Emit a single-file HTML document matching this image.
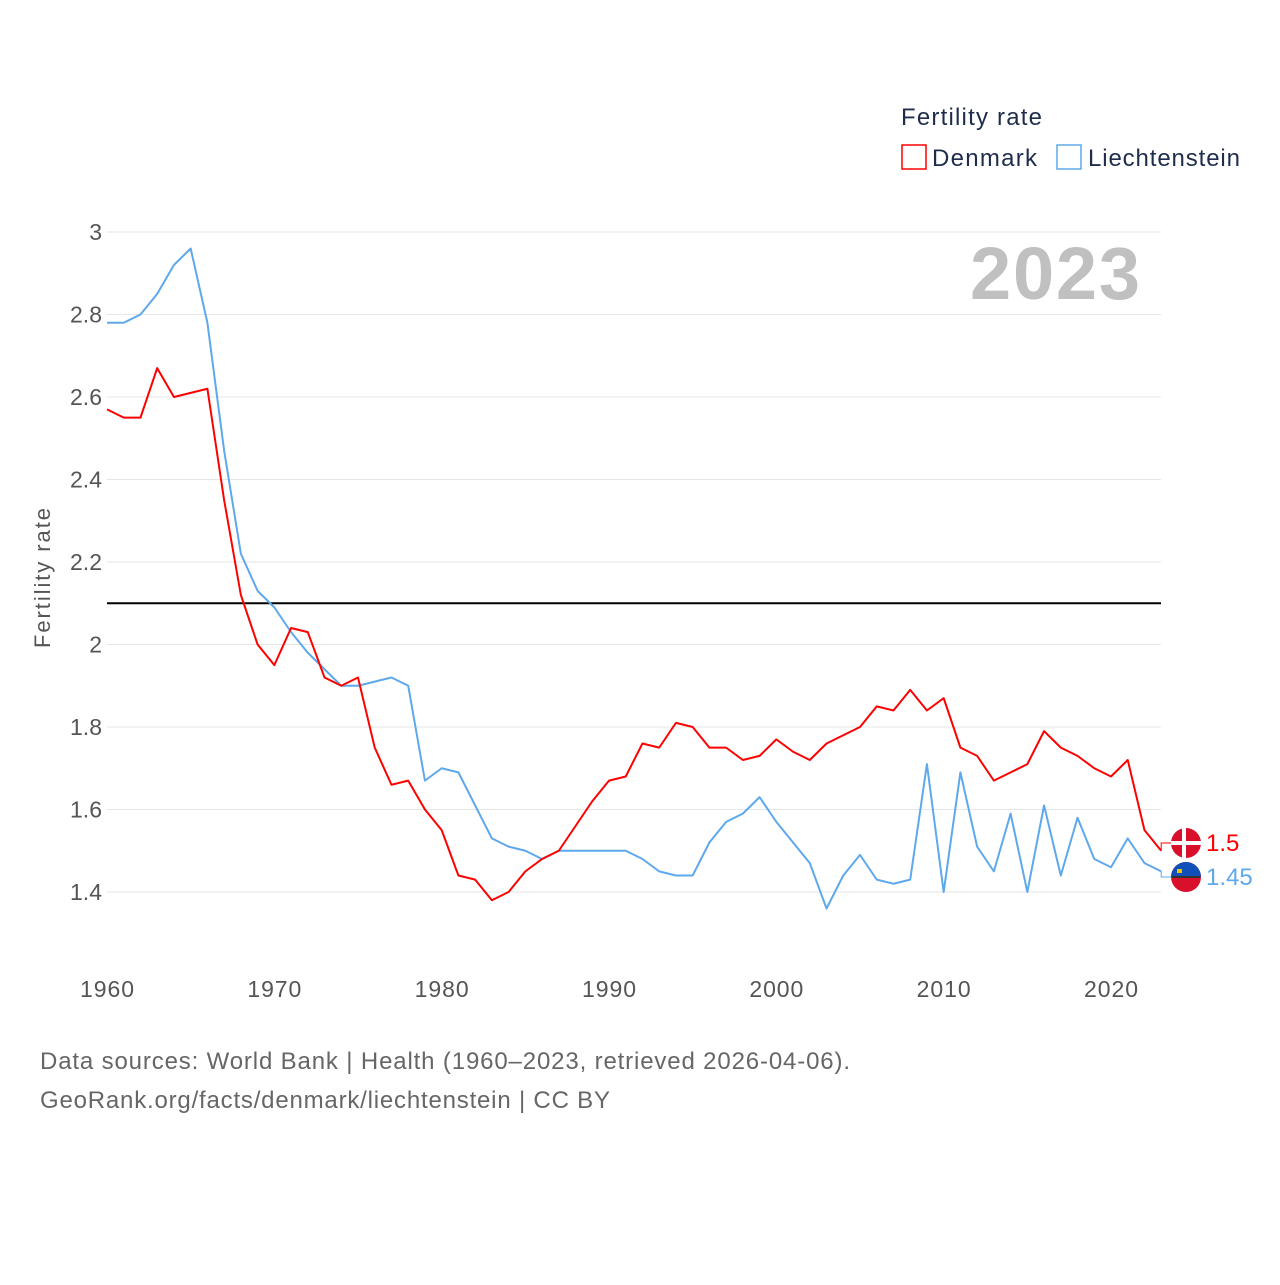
<!DOCTYPE html>
<html><head><meta charset="utf-8"><style>
body{margin:0;background:#fff;font-family:"Liberation Sans",sans-serif}
svg text{font-family:"Liberation Sans",sans-serif}
</style></head><body>
<svg id="c" width="1280" height="1280" xmlns="http://www.w3.org/2000/svg">
<text x="901" y="125" font-size="24" fill="#1f2d4d" textLength="141">Fertility rate</text>
<rect x="902" y="145" width="24" height="24" fill="none" stroke="#f00" stroke-width="1.5"/>
<text x="932" y="166" font-size="24" fill="#1f2d4d" textLength="105">Denmark</text>
<rect x="1057" y="145" width="24" height="24" fill="none" stroke="#5ea8ec" stroke-width="1.5"/>
<text x="1088" y="166" font-size="24" fill="#1f2d4d" textLength="152">Liechtenstein</text>
<text x="1140" y="299" font-size="74" font-weight="bold" fill="#c0c0c0" text-anchor="end" textLength="170">2023</text>
<text transform="translate(50,578) rotate(-90)" font-size="22" fill="#555" text-anchor="middle" textLength="140">Fertility rate</text>
<g id="grid"></g><g id="lines"></g><g id="ends"></g>
<text x="40" y="1069" font-size="24" fill="#666" textLength="810">Data sources: World Bank | Health (1960–2023, retrieved 2026-04-06).</text>
<text x="40" y="1108" font-size="24" fill="#666" textLength="570">GeoRank.org/facts/denmark/liechtenstein | CC BY</text>
</svg>
<script>
const years=[];for(let y=1960;y<=2023;y++)years.push(y);
const denmark=[2.57,2.55,2.55,2.67,2.60,2.61,2.62,2.35,2.12,2.00,1.95,2.04,2.03,1.92,1.90,1.92,1.75,1.66,1.67,1.60,1.55,1.44,1.43,1.38,1.40,1.45,1.48,1.50,1.56,1.62,1.67,1.68,1.76,1.75,1.81,1.80,1.75,1.75,1.72,1.73,1.77,1.74,1.72,1.76,1.78,1.80,1.85,1.84,1.89,1.84,1.87,1.75,1.73,1.67,1.69,1.71,1.79,1.75,1.73,1.70,1.68,1.72,1.55,1.50];
const liechtenstein=[2.78,2.78,2.80,2.85,2.92,2.96,2.78,2.47,2.22,2.13,2.09,2.03,1.98,1.94,1.90,1.90,1.91,1.92,1.90,1.67,1.70,1.69,1.61,1.53,1.51,1.50,1.48,1.50,1.50,1.50,1.50,1.50,1.48,1.45,1.44,1.44,1.52,1.57,1.59,1.63,1.57,1.52,1.47,1.36,1.44,1.49,1.43,1.42,1.43,1.71,1.40,1.69,1.51,1.45,1.59,1.40,1.61,1.44,1.58,1.48,1.46,1.53,1.47,1.45];
const yTicks=[3,2.8,2.6,2.4,2.2,2,1.8,1.6,1.4];
const xTicks=[1960,1970,1980,1990,2000,2010,2020];
const replacement=2.1;
const NS="http://www.w3.org/2000/svg";
const X=y=>107+(y-1960)*(1111-107)/60;
const Y=v=>232+(3-v)*412.5;
function mk(t,a,p){const e=document.createElementNS(NS,t);for(const k in a)e.setAttribute(k,a[k]);p.appendChild(e);return e;}
const g=document.getElementById('grid');
yTicks.forEach(v=>{
 const l=mk('line',{x1:107,x2:1161,y1:Y(v),y2:Y(v),stroke:'#e6e6e6','stroke-width':1},g);
 
 
 const t=mk('text',{x:102,y:Y(v)+8,'font-size':23,fill:'#555','text-anchor':'end'},g);t.textContent=v;
 
 
});
xTicks.forEach(v=>{
 const t=mk('text',{x:X(v),y:997,'font-size':23,fill:'#555','text-anchor':'middle',textLength:54},g);t.textContent=v;
 
 
});
const rl=mk('line',{x1:107,x2:1161,y1:Y(replacement),y2:Y(replacement),stroke:'#000','stroke-width':2},g);


const L=document.getElementById('lines');
function series(d,c,n){
 const p=mk('polyline',{points:d.map((v,i)=>X(years[i])+','+Y(v)).join(' '),fill:'none',stroke:c,'stroke-width':2,'stroke-linejoin':'round'},L);
 
 
}
series(liechtenstein,'#5ea8ec','line-liechtenstein');
series(denmark,'#f00','line-denmark');
const E=document.getElementById('ends');
function end(d,c,ly,lab,n,flag){
 const v=d[d.length-1],x=X(years[years.length-1]),y=Y(v);
 mk('polyline',{points:`${x},${y} ${x},${ly} ${x+10},${ly}`,fill:'none',stroke:c,'stroke-width':1},E);
 const f=mk('g',{},E);
 
 
 flag(f,1186,ly);
 const t=mk('text',{x:1206,y:ly+8,'font-size':24,fill:c},E);t.textContent=lab;
 
 
}
end(denmark,'#f00',843,'1.5','denmark',(f,cx,cy)=>{
 mk('circle',{cx,cy,r:15,fill:'#d8102c'},f);
 mk('rect',{x:cx-15,y:cy-2,width:30,height:4,fill:'#fff'},f);
 mk('rect',{x:cx-4,y:cy-15,width:4,height:30,fill:'#fff'},f);
});
end(liechtenstein,'#5ea8ec',877,'1.45','liechtenstein',(f,cx,cy)=>{
 mk('circle',{cx,cy,r:15,fill:'#d8102c'},f);
 mk('path',{d:`M${cx-15},${cy} A15,15 0 0 1 ${cx+15},${cy} Z`,fill:'#1050b8'},f);
 mk('rect',{x:cx-14,y:cy-1,width:28,height:2,fill:'#333'},f);
 mk('rect',{x:cx-9,y:cy-8,width:5,height:4,fill:'#f5c400'},f);
});
</script>
</body></html>
